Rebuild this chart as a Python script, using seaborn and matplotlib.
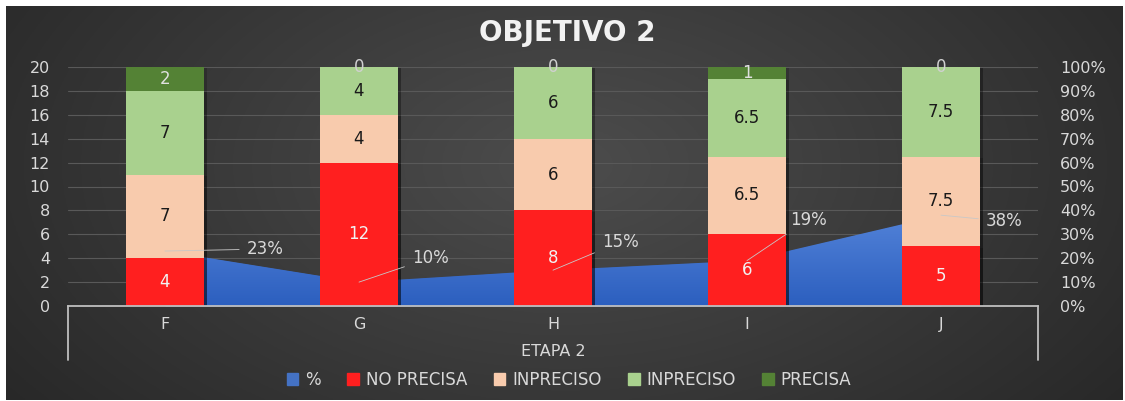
import matplotlib
matplotlib.use("agg")
import matplotlib.pyplot as plt
import matplotlib.patheffects as pe
from matplotlib.patches import Patch
from matplotlib.lines import Line2D
import numpy as np
import seaborn as sns

categories = ['F', 'G', 'H', 'I', 'J']
no_precisa = [4, 12, 8, 6, 5]
inpreciso_a = [7, 4, 6, 6.5, 7.5]
inpreciso_b = [7, 4, 6, 6.5, 7.5]
precisa = [2, 0, 0, 1, 0]
pct = [0.23, 0.10, 0.15, 0.19, 0.38]
group_label = 'ETAPA 2'
title = 'OBJETIVO 2'

c_red = '#ff1f1f'
c_peach = '#f8cbad'
c_lgreen = '#a9d18e'
c_dgreen = '#548235'
c_blue = '#4472c4'
txt = '#d9d9d9'

W, H = 1125, 401
fx = lambda px: px / W
fy = lambda py: 1 - py / H

sns.set_style("dark")
plt.rcParams['font.family'] = ['DejaVu Sans']

fig = plt.figure(figsize=(W / 100, H / 100), dpi=100, facecolor='white')

# background with soft radial gradient
bg = fig.add_axes([fx(6), fy(400), fx(1123) - fx(6), fy(6) - fy(400)])
yy, xx = np.mgrid[0:200, 0:560]
d = np.sqrt(((xx - 280) / 340.0) ** 2 + ((yy - 80) / 200.0) ** 2)
shade = np.clip(0.30 - 0.14 * d, 0.15, 0.30)
bg.imshow(np.dstack([shade, shade, shade]), aspect='auto', extent=[0, 1, 0, 1])
bg.set_axis_off()

rect = [fx(68), fy(306), fx(1038) - fx(68), fy(67) - fy(306)]
ax2 = fig.add_axes(rect)  # percent axis (behind)
ax = fig.add_axes(rect)   # count axis (front)
ax.patch.set_visible(False)
ax2.patch.set_visible(False)

x = np.arange(len(categories))

# percent area with vertical gradient
ax2.set_xlim(-0.5, len(categories) - 0.5)
ax2.set_ylim(0, 1)
poly = ax2.fill_between(x, 0, pct, color=c_blue, lw=0, zorder=2)
grad = np.linspace(0, 1, 100).reshape(-1, 1)
cmap = matplotlib.colors.LinearSegmentedColormap.from_list('b', ['#2c5fbf', '#5282d8'])
im = ax2.imshow(grad, extent=[0, len(categories) - 1, 0, max(pct)], origin='lower',
                aspect='auto', cmap=cmap, zorder=3)
im.set_clip_path(poly.get_paths()[0], transform=ax2.transData)
ax2.set_xlim(-0.5, len(categories) - 0.5)
ax2.set_ylim(0, 1)
ax2.set_yticks(np.linspace(0, 1, 11))
ax2.set_yticklabels([f'{int(round(v * 100))}%' for v in np.linspace(0, 1, 11)])
ax2.yaxis.tick_right()
ax2.tick_params(axis='y', length=0, pad=16, labelsize=11.5, labelcolor=txt)
ax2.set_xticks([])
ax2.grid(axis='y', color='#595959', lw=0.8, zorder=0)
ax2.grid(axis='x', visible=False)
for s in ax2.spines.values():
    s.set_visible(False)

# stacked bars, drawn from the cumulative top downwards
layers = [no_precisa, inpreciso_a, inpreciso_b, precisa]
colors = [c_red, c_peach, c_lgreen, c_dgreen]
cum = np.cumsum(np.array(layers, dtype=float), axis=0)
shadow = [pe.SimplePatchShadow(offset=(2, -1), alpha=0.18, shadow_rgbFace='black'), pe.Normal()]
for i in range(len(layers) - 1, -1, -1):
    sns.barplot(x=categories, y=cum[i], color=colors[i], saturation=1, width=0.4,
                ax=ax, zorder=3, linewidth=0)
for p in ax.patches:
    p.set_path_effects(shadow)

label_colors = ['#f2f2f2', '#1a1a1a', '#1a1a1a', '#e0e0e0']
for i, vals in enumerate(layers):
    bottom = cum[i] - np.array(vals, dtype=float)
    for j, v in enumerate(vals):
        yc = bottom[j] + v / 2
        col = label_colors[i] if v > 0 else '#d0d0d0'
        ax.text(j, yc, f'{v:g}', ha='center', va='center', fontsize=12,
                color=col, zorder=5)

ax.set_xlim(-0.5, len(categories) - 0.5)
ax.set_ylim(0, 20)
ax.set_yticks(range(0, 21, 2))
ax.tick_params(axis='y', length=0, pad=13, labelsize=11.5, labelcolor=txt)
ax.tick_params(axis='x', length=0, pad=8, labelsize=11.5, labelcolor=txt)
ax.set_xticks(x)
ax.set_xticklabels(categories)
ax.set_xlabel('')
ax.set_ylabel('')
ax.grid(False)
for k, s in ax.spines.items():
    s.set_visible(k == 'bottom')
ax.spines['bottom'].set_color('#bfbfbf')
ax.spines['bottom'].set_linewidth(1.3)
ax.spines['bottom'].set_zorder(6)

# multi-level category axis bracket
depth = 54 / (306 - 67)
for xa in (0, 1):
    ax.add_line(Line2D([xa, xa], [0, -depth], transform=ax.transAxes, color='#bfbfbf',
                       lw=1.3, clip_on=False))
fig.text(fx(553), fy(351), group_label, ha='center', va='center', fontsize=11.5, color=txt)

# percent labels with leader lines
offsets = [(100, 2), (71, 24), (67, 28), (61, 41), (63, -6)]
for j, v in enumerate(pct):
    ox, oy = offsets[j]
    ax.annotate(f'{round(v * 100):.0f}%', xy=(j, v), xycoords=ax2.transData,
                xytext=(ox * 0.72, oy * 0.72), textcoords='offset points',
                ha='center', va='center', fontsize=12, color=txt, zorder=7,
                arrowprops=dict(arrowstyle='-', color='#c8c8c8', lw=0.6,
                                shrinkA=3, shrinkB=0))

fig.text(fx(567), fy(33), title, ha='center', va='center', fontsize=20,
         fontweight='bold', color='#f2f2f2')

handles = [Patch(color=c_blue), Patch(color=c_red), Patch(color=c_peach),
           Patch(color=c_lgreen), Patch(color=c_dgreen)]
names = ['%', 'NO PRECISA', 'INPRECISO', 'INPRECISO', 'PRECISA']
leg = fig.legend(handles, names, loc='center', bbox_to_anchor=(fx(569), fy(380)), ncol=5,
                 frameon=False, fontsize=12, labelcolor=txt, handlelength=0.7,
                 handleheight=0.7, handletextpad=0.4, columnspacing=1.6)

fig.savefig('out.png', dpi=100, facecolor='white')
